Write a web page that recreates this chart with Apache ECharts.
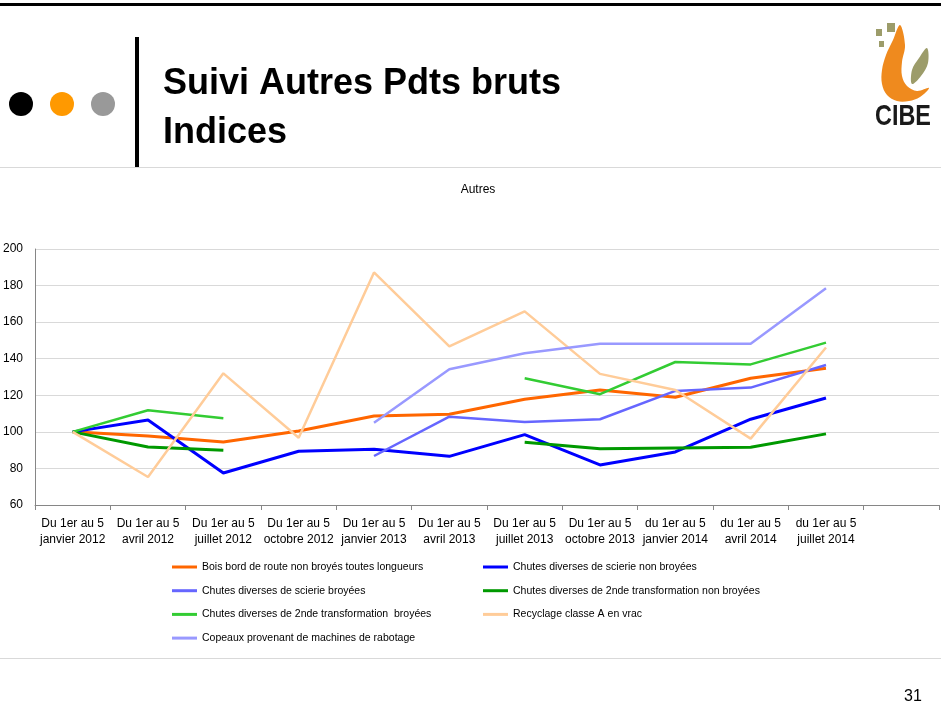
<!DOCTYPE html>
<html>
<head>
<meta charset="utf-8">
<script src="https://cdn.jsdelivr.net/npm/echarts@6/dist/echarts.min.js"></script>
<style>
html,body{margin:0;padding:0;background:#fff;}
#c{width:941px;height:720px;}
</style>
</head>
<body>
<div id="c"></div>
<script>
var categories = [
  "Du 1er au 5\njanvier 2012","Du 1er au 5\navril 2012","Du 1er au 5\njuillet 2012","Du 1er au 5\noctobre 2012",
  "Du 1er au 5\njanvier 2013","Du 1er au 5\navril 2013","Du 1er au 5\njuillet 2013","Du 1er au 5\noctobre 2013",
  "du 1er au 5\njanvier 2014","du 1er au 5\navril 2014","du 1er au 5\njuillet 2014",""
];
var seriesNames = [
  "Bois bord de route non broyés toutes longueurs",
  "Chutes diverses de scierie non broyées",
  "Chutes diverses de scierie broyées",
  "Chutes diverses de 2nde transformation non broyées",
  "Chutes diverses de 2nde transformation  broyées",
  "Recyclage classe A en vrac",
  "Copeaux provenant de machines de rabotage"
];
var boisBordRoute   = [100, 97.8, 94.5, 100.5, 108.7, 109.6, 117.8, 122.9, 118.9, 129.3, 134.8];
var scierieNonBroy  = [100, 106.5, 77.5, 89.4, 90.5, 86.6, 98.5, 81.9, 89.0, 106.9, 118.5];
var scierieBroy     = [null, null, null, null, 86.8, 108.3, 105.4, 106.9, 122.4, 124.2, 136.6];
var secondeNonBroy  = [100, 91.7, 89.9, null, null, null, 94.3, 90.8, 91.2, 91.6, 98.9];
var secondeBroy     = [100, 111.8, 107.4, null, null, null, 129.3, 120.6, 138.2, 136.9, 148.8];
var recyclageA      = [100, 75.3, 132.0, 96.8, 187.2, 146.8, 165.9, 131.7, 122.9, 96.3, 146.1];
var copeaux         = [null, null, null, null, 105.0, 134.2, 143.0, 148.2, 148.2, 148.2, 178.5];
var yTicks = [60, 80, 100, 120, 140, 160, 180, 200];

var allData = [boisBordRoute, scierieNonBroy, scierieBroy, secondeNonBroy, secondeBroy, recyclageA, copeaux];
var colors = ["#FF6600", "#0000FF", "#6666FF", "#009900", "#33CC33", "#FFCC99", "#9999FF"];
var widths = [3, 3, 2.5, 3, 2.5, 2.5, 2.5];

var chart = echarts.init(document.getElementById('c'), null, {renderer: 'canvas'});
var sans = "'Liberation Sans', Arial, sans-serif";

var series = allData.map(function (d, i) {
  return {
    name: seriesNames[i], type: 'line', data: d, color: colors[i],
    showSymbol: false, symbol: 'none', connectNulls: false,
    lineStyle: {width: widths[i], color: colors[i]},
    emphasis: {disabled: true}, animation: false
  };
});

var legendStyle = {
  orient: 'vertical', icon: 'rect', itemWidth: 25, itemHeight: 3,
  itemGap: 11.7, padding: 0, selectedMode: false,
  textStyle: {fontFamily: sans, fontSize: 10.5, color: '#000', lineHeight: 12}
};

chart.setOption({
  backgroundColor: '#fff',
  animation: false,
  title: {
    text: 'Autres', left: 473, top: 179, textAlign: 'center',
    textStyle: {fontFamily: sans, fontSize: 12, fontWeight: 'normal', color: '#000'}
  },
  legend: [
    Object.assign({left: 172, top: 561, data: [seriesNames[0], seriesNames[2], seriesNames[4], seriesNames[6]]}, legendStyle),
    Object.assign({left: 483, top: 561, data: [seriesNames[1], seriesNames[3], seriesNames[5]]}, legendStyle)
  ],
  grid: {left: 34, right: 2, top: 249, bottom: 215, containLabel: false},
  xAxis: {
    type: 'category', data: categories, boundaryGap: true,
    axisLine: {lineStyle: {color: '#868686', width: 1}},
    axisTick: {show: true, length: 5, lineStyle: {color: '#868686'}},
    axisLabel: {interval: 0, margin: 11, fontFamily: sans, fontSize: 12, color: '#000', lineHeight: 16}
  },
  yAxis: {
    type: 'value', min: yTicks[0], max: yTicks[yTicks.length - 1], interval: 20,
    axisLine: {show: true, lineStyle: {color: '#868686'}},
    axisTick: {show: false},
    splitLine: {lineStyle: {color: '#D9D9D9', width: 1}},
    axisLabel: {margin: 12, fontFamily: sans, fontSize: 12, color: '#000'}
  },
  series: series,
  graphic: [
    {type: 'rect', shape: {x: 0, y: 3, width: 941, height: 3}, style: {fill: '#000'}, silent: true},
    {type: 'rect', shape: {x: 0, y: 167, width: 941, height: 1}, style: {fill: '#D9D9D9'}, silent: true},
    {type: 'rect', shape: {x: 0, y: 658, width: 941, height: 1}, style: {fill: '#D9D9D9'}, silent: true},
    {type: 'rect', shape: {x: 135, y: 37, width: 4, height: 130}, style: {fill: '#000'}, silent: true},
    {type: 'circle', shape: {cx: 21, cy: 104, r: 12}, style: {fill: '#000'}, silent: true},
    {type: 'circle', shape: {cx: 62, cy: 104, r: 12}, style: {fill: '#FF9900'}, silent: true},
    {type: 'circle', shape: {cx: 103, cy: 104, r: 12}, style: {fill: '#999999'}, silent: true},
    {type: 'text', x: 163, y: 60, silent: true,
      style: {text: 'Suivi Autres Pdts bruts\nIndices', fontFamily: sans, fontWeight: 'bold', fontSize: 36, lineHeight: 49, fill: '#000'}},
    {type: 'text', x: 904, y: 689, silent: true,
      style: {text: '31', fontFamily: sans, fontSize: 16, fill: '#000'}},
    // logo
    {type: 'rect', shape: {x: 887, y: 23, width: 8, height: 9}, style: {fill: '#9C9C6A'}, silent: true},
    {type: 'rect', shape: {x: 876, y: 29, width: 6, height: 7}, style: {fill: '#9C9C6A'}, silent: true},
    {type: 'rect', shape: {x: 879, y: 41, width: 5, height: 6}, style: {fill: '#9C9C6A'}, silent: true},
    {type: 'polygon', silent: true,
      shape: {smooth: 0.35, points: [[900,25],[893,40],[886,55],[882,70],[882,84],[887,95],[897,101],[909,101],[920,97],[929,88],[917,91],[907,86],[902,76],[902,62],[905,45]]},
      style: {fill: '#EF8A1E'}},
    {type: 'polygon', silent: true,
      shape: {smooth: 0.35, points: [[927,48],[919,58],[912,70],[912,84],[921,76],[928,63]]},
      style: {fill: '#9C9C6A'}},
    {type: 'text', x: 875, y: 102, scaleX: 0.78, silent: true,
      style: {text: 'CIBE', fontFamily: sans, fontWeight: 'bold', fontSize: 30, fill: '#1A1A1A'}}
  ]
});
</script>
</body>
</html>
